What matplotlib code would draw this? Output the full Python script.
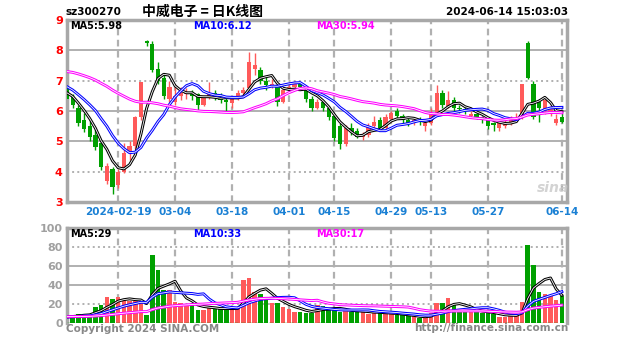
import numpy as np
import matplotlib
matplotlib.use('Agg')
import matplotlib.pyplot as plt
import matplotlib.patheffects as pe

plt.rcParams['font.family'] = ['DejaVu Sans', 'Noto Sans CJK SC']

# daily candles 2024-01-29 .. 2024-06-14 (88 trading days)
opens = [6.75, 6.45, 6.1, 5.7, 5.5, 5.2, 4.95, 3.7, 4.1, 3.55,
         4.0, 4.6, 4.85, 5.8, 8.3, 8.2, 7.4, 7.1, 6.4, 6.3,
         6.5, 6.55, 6.6, 6.55, 6.2, 6.45, 6.6, 6.5, 6.35, 6.25,
         6.4, 6.6, 6.75, 7.4, 7.35, 7.0, 6.85, 6.85, 6.3, 6.7,
         6.8, 6.9, 6.75, 6.4, 6.1, 6.3, 6.1, 5.85, 5.5, 4.9,
         5.45, 5.35, 5.15, 5.2, 5.5, 5.7, 5.45, 5.75, 6.0, 5.85,
         5.7, 5.6, 5.75, 5.5, 5.6, 5.95, 6.6, 6.15, 6.35, 6.1,
         6.05, 5.85, 5.9, 5.8, 5.7, 5.6, 5.45, 5.5, 5.6, 5.75,
         5.8, 8.25, 6.9, 6.3, 6.0, 5.9, 5.6, 5.8]
highs = [6.9, 6.55, 6.2, 5.95, 5.7, 5.4, 5.05, 4.3, 4.15, 4.1,
         4.95, 5.0, 5.85, 6.96, 8.35, 8.3, 7.6, 7.25, 7.0, 6.9,
         6.8, 6.75, 6.7, 6.6, 6.5, 6.95, 6.7, 6.6, 6.45, 6.5,
         6.7, 6.8, 7.95, 7.9, 7.45, 7.15, 7.05, 6.9, 6.8, 6.95,
         7.0, 6.95, 6.8, 6.5, 6.4, 6.35, 6.15, 5.95, 5.6, 5.55,
         5.6, 5.45, 5.3, 5.6, 5.85, 5.8, 5.9, 6.0, 6.1, 5.9,
         5.8, 5.8, 5.8, 5.75, 6.1, 6.85, 6.7, 6.65, 6.45, 6.2,
         6.15, 6.0, 5.95, 5.85, 5.75, 5.65, 5.7, 5.7, 5.85, 5.95,
         6.9, 8.3, 7.0, 6.4, 6.4, 6.3, 5.9, 5.95]
lows = [6.3, 6.1, 5.5, 5.3, 5.0, 4.7, 4.05, 3.6, 3.25, 3.45,
        3.95, 4.4, 4.75, 5.7, 8.15, 7.3, 6.9, 6.4, 6.3, 6.2,
        6.35, 6.4, 6.35, 6.0, 6.15, 6.4, 6.35, 6.25, 6.0, 6.1,
        6.35, 6.5, 6.7, 7.2, 6.9, 6.7, 6.75, 6.15, 6.25, 6.6,
        6.7, 6.7, 6.3, 6.0, 6.05, 6.0, 5.7, 5.0, 4.75, 4.85,
        5.2, 5.1, 5.05, 5.15, 5.4, 5.4, 5.4, 5.65, 5.75, 5.6,
        5.5, 5.55, 5.55, 5.35, 5.55, 5.9, 6.1, 6.1, 6.0, 5.95,
        5.9, 5.8, 5.75, 5.6, 5.4, 5.35, 5.35, 5.45, 5.55, 5.65,
        5.75, 7.05, 5.75, 5.65, 5.9, 5.85, 5.55, 5.6]
closes = [6.4, 6.2, 5.6, 5.4, 5.15, 4.8, 4.15, 4.2, 3.5, 4.0,
          4.6, 4.85, 5.8, 6.95, 8.25, 7.35, 7.0, 6.5, 6.8, 6.5,
          6.6, 6.6, 6.5, 6.2, 6.45, 6.6, 6.5, 6.35, 6.3, 6.4,
          6.6, 6.7, 7.6, 7.5, 7.0, 6.85, 6.9, 6.3, 6.7, 6.8,
          6.9, 6.8, 6.4, 6.1, 6.3, 6.1, 5.8, 5.1, 4.9, 5.45,
          5.3, 5.15, 5.2, 5.5, 5.65, 5.45, 5.8, 5.95, 5.85, 5.7,
          5.6, 5.7, 5.65, 5.6, 5.95, 6.6, 6.2, 6.35, 6.1, 6.05,
          6.0, 5.9, 5.8, 5.7, 5.5, 5.55, 5.6, 5.6, 5.75, 5.75,
          6.9, 7.1, 5.8, 6.1, 6.35, 6.05, 5.75, 5.65]
volumes = [6, 8, 10, 10, 9, 17, 19, 27, 25, 27,
           25, 23, 23, 23, 8, 72, 56, 35, 35, 22,
           21, 19, 19, 14, 14, 17, 16, 15, 14, 14,
           17, 45, 47, 33, 31, 24, 21, 21, 17, 15,
           12, 12, 11, 11, 19, 18, 14, 14, 12, 14,
           12, 12, 12, 10, 11, 11, 10, 10, 8, 8,
           7, 7, 5, 6, 11, 21, 21, 26, 19, 15,
           13, 12, 12, 11, 11, 9, 6, 6, 9, 10,
           22, 82, 61, 33, 31, 30, 24, 28]

# closes / volumes before the visible window, inferred from where the MA lines start
prev_closes = [7.0, 7.1, 7.2, 7.1, 7.2, 7.3, 7.2, 7.2, 7.2,
               7.5, 7.7, 7.9, 8.0, 8.1, 8.0, 7.9, 7.9, 7.8, 7.9, 7.8,
               7.3, 7.1, 7.0, 6.9, 6.7, 6.8, 6.7, 6.6, 6.5]
prev_volumes = [7, 6, 8, 7, 6, 7, 8, 6, 7, 6, 7, 7, 6, 8, 7,
                6, 7, 6, 7, 8, 6, 7, 6, 7, 6, 6, 7, 6, 7]

tick_idx = [9, 19, 29, 39, 47, 57, 64, 74, 87]
tick_labels = ['2024-02-19', '03-04', '03-18', '04-01', '04-15',
               '04-29', '05-13', '05-27', '06-14']


def moving_avg(seed, vals, n):
    arr = np.array(seed + vals, dtype=float)
    out = np.convolve(arr, np.ones(n) / n, mode='valid')
    return out[-len(vals):]


W, H = 627, 342
RED = '#ff5a5a'
GREEN = '#00a000'
GRID = '#b0b0b0'
MA_COLORS = ['black', '#0000ff', '#ff00ff']

fig = plt.figure(figsize=(W / 100, H / 100), dpi=100)
fig.patch.set_facecolor('white')


def px_axes(l, t, r, b):
    return fig.add_axes([l / W, 1 - b / H, (r - l) / W, (b - t) / H])


def hollow(color):
    # sina draws the MA lines as thin outlined strokes
    return [pe.Stroke(linewidth=2.1, foreground=color), pe.Normal()]


n = len(closes)
x = np.arange(n)
up = np.array(closes) >= np.array(opens)
colors = [RED if u else GREEN for u in up]

ax = px_axes(67, 20, 567, 202)
vax = px_axes(67, 228, 567, 323)

for a in (ax, vax):
    a.set_xlim(0.0, 87.9)
    for s in a.spines.values():
        s.set_color('#a8a8a8')
        s.set_linewidth(2.5)
    a.set_xticks([])
    for t in tick_idx:
        a.axvline(t, color=GRID, lw=1.6, ls=(0, (3, 2)), zorder=0)

# price panel
ax.set_ylim(3, 9)
for lv in [4, 5, 6, 7, 8]:
    ls = ':' if lv in (4, 7) else '-'
    ax.axhline(lv, color=GRID, lw=1.4, ls=ls, zorder=0)
ax.set_yticks(range(3, 10))
ax.set_yticklabels([str(v) for v in range(3, 10)], color='red',
                   fontsize=8, fontweight='bold')
ax.tick_params(axis='y', length=0, pad=3)

ax.vlines(x, lows, highs, colors=colors, lw=1, zorder=2)
bodies = np.maximum(np.abs(np.array(closes) - np.array(opens)), 0.03)
ax.bar(x, bodies, bottom=np.minimum(opens, closes), width=0.75,
       color=colors, zorder=3)

for k, c in zip([5, 10, 30], MA_COLORS):
    ma = moving_avg(prev_closes, closes, k)
    ax.plot(x, ma, color='white', lw=0.6, zorder=4, path_effects=hollow(c))

# volume panel
vax.set_ylim(0, 100)
for lv in [20, 40, 60, 80]:
    ls = ':' if lv in (20, 80) else '-'
    vax.axhline(lv, color=GRID, lw=1.4, ls=ls, zorder=0)
vax.set_yticks(range(0, 101, 20))
vax.set_yticklabels([str(v) for v in range(0, 101, 20)], color='#a0a0a0',
                    fontsize=8, fontweight='bold')
vax.tick_params(axis='y', length=0, pad=3)
vax.spines['bottom'].set_visible(False)
vax.bar(x, volumes, width=0.8, color=colors, zorder=2)
vax.axhline(0, color=GREEN, lw=1, ls=(0, (3, 2)), zorder=3)
for k, c in zip([5, 10, 30], MA_COLORS):
    ma = moving_avg(prev_volumes, volumes, k)
    vax.plot(x, ma, color='white', lw=0.6, zorder=4, path_effects=hollow(c))

# date labels below price panel
for t, lab in zip(tick_idx, tick_labels):
    ax.text(t, -0.03, lab, transform=ax.get_xaxis_transform(), ha='center',
            va='top', color='#1a80d4', fontsize=7.5, fontweight='bold')

# header texts
fig.text(66 / W, 1 - 12 / H, 'sz300270', fontsize=7.5, fontweight='bold',
         va='center', ha='left')
fig.text(203 / W, 1 - 12 / H, '中威电子 = 日K线图', fontsize=10,
         fontweight='bold', va='center', ha='center',
         family=['Noto Sans CJK SC', 'DejaVu Sans'])
fig.text(568 / W, 1 - 12 / H, '2024-06-14 15:03:03', fontsize=7.5,
         fontweight='bold', va='center', ha='right')

for (lab, xp), c in zip([('MA5:5.98', 70), ('MA10:6.12', 193),
                         ('MA30:5.94', 316)], MA_COLORS):
    fig.text(xp / W, 1 - 26 / H, lab, color=c, fontsize=7, fontweight='bold',
             va='center', ha='left')
for (lab, xp), c in zip([('MA5:29', 70), ('MA10:33', 193),
                         ('MA30:17', 316)], MA_COLORS):
    fig.text(xp / W, 1 - 234 / H, lab, color=c, fontsize=7, fontweight='bold',
             va='center', ha='left')

fig.text(66 / W, 1 - 329 / H, 'Copyright 2024 SINA.COM', color='#888888',
         fontsize=7.5, fontweight='bold', va='center', ha='left')
fig.text(568 / W, 1 - 328 / H, 'http://finance.sina.com.cn', color='#888888',
         fontsize=7.5, fontweight='bold', va='center', ha='right')
fig.text(553 / W, 1 - 188 / H, 'sina', color='#c8c8c8', fontsize=10,
         fontweight='bold', style='italic', va='center', ha='center',
         alpha=0.8)

fig.savefig('out.png', dpi=100)
